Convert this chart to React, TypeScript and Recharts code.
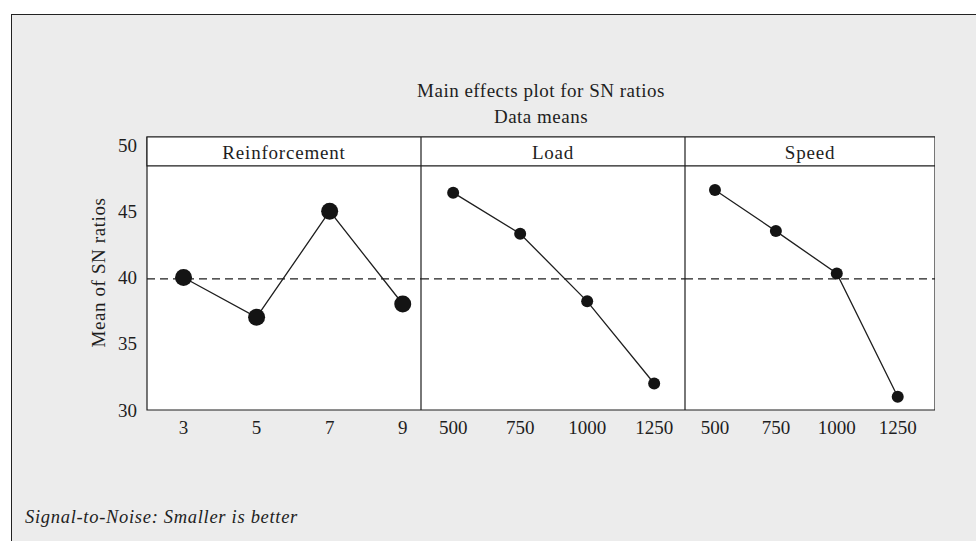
import { LineChart, Line, XAxis, YAxis, ReferenceArea, ReferenceLine } from "recharts"

const reinforcementLevels = [3, 5, 7, 9]
const reinforcementSN = [40.0, 37.0, 45.0, 38.0]

const loadLevels = [500, 750, 1000, 1250]
const loadSN = [46.4, 43.3, 38.2, 32.0]

const speedLevels = [500, 750, 1000, 1250]
const speedSN = [46.6, 43.5, 40.3, 31.0]

const yTicks = [30, 35, 40, 45, 50]
const grandMean = 39.9

const FONT = "'Liberation Serif', 'Times New Roman', serif"
const INK = "#1e1e1e"
const Y_DOMAIN: [number, number] = [30, 50.6]
const HEADER_BOTTOM = 48.42

interface PanelProps {
    title: string
    levels: number[]
    values: number[]
    domain: [number, number]
    left: number
    width: number
    dotR: number
    showY?: boolean
}

const tickStyle = { fontFamily: FONT, fontSize: 19, fill: INK }

const Panel = ({ title, levels, values, domain, left, width, dotR, showY }: PanelProps) => {
    const data = levels.map((level, i) => ({ level, sn: values[i] }))
    return (
        <div style={{ position: "absolute", left, top: 130 }}>
            <LineChart
                width={width}
                height={310}
                data={data}
                margin={{ top: 7, right: 0, bottom: 0, left: 0 }}
            >
                <XAxis
                    type="number"
                    dataKey="level"
                    domain={domain}
                    ticks={levels}
                    axisLine={false}
                    tickLine={false}
                    tickMargin={5}
                    height={30}
                    tick={tickStyle}
                    allowDataOverflow
                />
                <YAxis
                    type="number"
                    domain={Y_DOMAIN}
                    ticks={yTicks}
                    hide={!showY}
                    width={87}
                    axisLine={false}
                    tickLine={false}
                    tickMargin={4}
                    tick={tickStyle}
                    allowDataOverflow
                    label={{
                        value: "Mean of SN ratios",
                        angle: -90,
                        position: "insideLeft",
                        offset: 38,
                        dy: 74,
                        style: { fontFamily: FONT, fontSize: 19, fill: INK, letterSpacing: 0.6 },
                    }}
                />
                <ReferenceArea
                    y1={Y_DOMAIN[0]}
                    y2={Y_DOMAIN[1]}
                    fill="#ffffff"
                    fillOpacity={1}
                    stroke={INK}
                    strokeWidth={1.2}
                />
                <ReferenceArea
                    y1={HEADER_BOTTOM}
                    y2={Y_DOMAIN[1]}
                    fill="#ffffff"
                    fillOpacity={1}
                    stroke={INK}
                    strokeWidth={1.2}
                    label={{
                        value: title,
                        position: "center",
                        dy: 1,
                        style: { fontFamily: FONT, fontSize: 19, fill: INK, letterSpacing: 0.8 },
                    }}
                />
                <ReferenceLine y={grandMean} stroke={INK} strokeWidth={1.2} strokeDasharray="8 5" />
                <Line
                    type="linear"
                    dataKey="sn"
                    stroke={INK}
                    strokeWidth={1.3}
                    dot={{ r: dotR, fill: "#141414", stroke: "#141414", strokeWidth: 0 }}
                    activeDot={false}
                    isAnimationActive={false}
                />
            </LineChart>
        </div>
    )
}

const App = () => {
    return (
        <div style={{ position: "absolute", left: 0, top: 0, width: 976, height: 541, overflow: "hidden", background: "#ffffff" }}>
            <div
                style={{
                    position: "absolute",
                    left: 11,
                    top: 14,
                    width: 965,
                    height: 527,
                    background: "#ececec",
                    borderLeft: "1px solid #222",
                    borderTop: "1.5px solid #222",
                    boxSizing: "border-box",
                }}
            />
            <svg width={976} height={541} style={{ position: "absolute", left: 0, top: 0 }}>
                <text x={541} y={97} textAnchor="middle" fontFamily={FONT} fontSize={19} fill={INK} letterSpacing={0.5}>
                    Main effects plot for SN ratios
                </text>
                <text x={541} y={123} textAnchor="middle" fontFamily={FONT} fontSize={19} fill={INK} letterSpacing={0.5}>
                    Data means
                </text>
                <text x={25} y={523} fontFamily={FONT} fontSize={18.5} fontStyle="italic" fill={INK} letterSpacing={0.7}>
                    Signal-to-Noise: Smaller is better
                </text>
            </svg>
            <Panel
                title="Reinforcement"
                levels={reinforcementLevels}
                values={reinforcementSN}
                domain={[2, 9.5]}
                left={60}
                width={361}
                dotR={8.5}
                showY
            />
            <Panel
                title="Load"
                levels={loadLevels}
                values={loadSN}
                domain={[380, 1365]}
                left={421}
                width={264}
                dotR={6}
            />
            <Panel
                title="Speed"
                levels={speedLevels}
                values={speedSN}
                domain={[377, 1403]}
                left={685}
                width={250}
                dotR={6}
            />
        </div>
    )
}

export default App
